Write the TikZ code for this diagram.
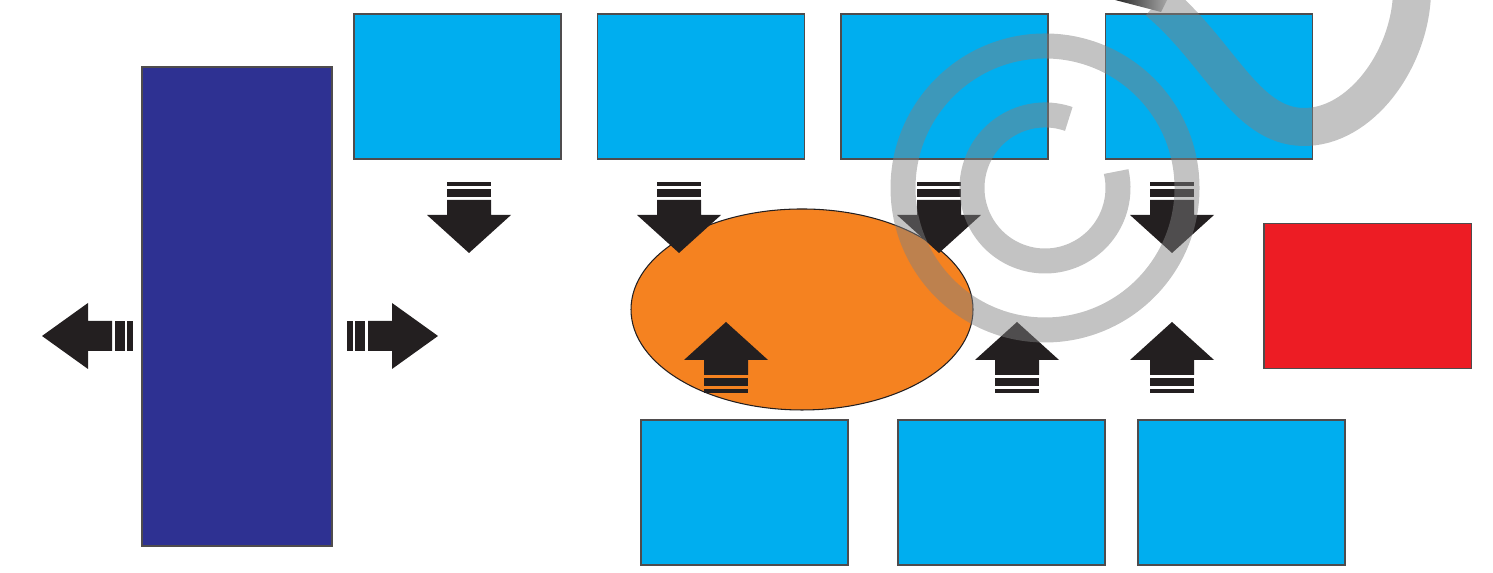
\documentclass[tikz,border=0pt]{standalone}
\usepackage{xcolor}
\usepackage{tikz}
\usetikzlibrary{shapes.geometric}

\definecolor{ciano}{HTML}{00AEEF}
\definecolor{anil}{HTML}{2E3192}
\definecolor{vermelho}{HTML}{ED1C24}
\definecolor{laranja}{HTML}{F58220}
\definecolor{quasepreto}{HTML}{231F20}
\definecolor{marcadagua}{RGB}{129,129,129}

\tikzset{
  pics/setabaixo/.style={code={
    \fill[quasepreto] (-0.22,0.53) -- (0.22,0.53) -- (0.22,0.38) -- (0.42,0.38)
      -- (0,0) -- (-0.42,0.38) -- (-0.22,0.38) -- cycle;
    \fill[quasepreto] (-0.22,0.56) rectangle (0.22,0.64);
    \fill[quasepreto] (-0.22,0.67) rectangle (0.22,0.71);
  }},
  pics/setadireita/.style={code={
    \fill[quasepreto] (-0.70,-0.15) -- (-0.46,-0.15) -- (-0.46,-0.33) -- (0,0)
      -- (-0.46,0.33) -- (-0.46,0.15) -- (-0.70,0.15) -- cycle;
    \fill[quasepreto] (-0.83,-0.15) rectangle (-0.73,0.15);
    \fill[quasepreto] (-0.91,-0.15) rectangle (-0.85,0.15);
  }},
}

\begin{document}
\begin{tikzpicture}[
    bloco/.style={draw=quasepreto!80, line width=0.3pt, inner sep=0pt,
                  minimum width=2.07cm, minimum height=1.45cm, fill=ciano},
    marca/.style={draw=marcadagua, draw opacity=0.48, line width=0.25cm}]
  \useasboundingbox (0,0) rectangle (14.93,5.73);
  % coluna da esquerda e blocos
  \node[draw=quasepreto!80, line width=0.3pt, fill=anil, inner sep=0pt,
        minimum width=1.90cm, minimum height=4.79cm] (coluna) at (2.37,2.665) {};
  \node[bloco] (cima1) at (4.575,4.865) {};
  \node[bloco] (cima2) at (7.01,4.865) {};
  \node[bloco] (cima3) at (9.445,4.865) {};
  \node[bloco] (cima4) at (12.09,4.865) {};
  \node[bloco] (baixo1) at (7.445,0.805) {};
  \node[bloco] (baixo2) at (10.015,0.805) {};
  \node[bloco] (baixo3) at (12.415,0.805) {};
  \node[bloco, fill=vermelho] (lateral) at (13.675,2.77) {};
  % elipse central
  \node[ellipse, draw=quasepreto, line width=0.3pt, fill=laranja, inner sep=0pt,
        minimum width=3.42cm, minimum height=2.01cm] (centro) at (8.02,2.635) {};
  % setas listradas
  \pic at (4.69,3.20) {setabaixo};
  \pic at (6.79,3.20) {setabaixo};
  \pic at (9.39,3.20) {setabaixo};
  \pic at (11.72,3.20) {setabaixo};
  \pic[rotate=180] at (7.26,2.51) {setabaixo};
  \pic[rotate=180] at (10.17,2.51) {setabaixo};
  \pic[rotate=180] at (11.72,2.51) {setabaixo};
  \pic at (4.38,2.37) {setadireita};
  \pic[rotate=180] at (0.42,2.37) {setadireita};
  % marca d'agua
  \draw[marca] (10.45,3.85) circle[radius=1.42];
  \draw[marca] (10.45,3.85) ++(71:0.73) arc[start angle=71, end angle=373, radius=0.73];
  \draw[marca, line width=0.38cm] (11.58,5.72) .. controls (12.2,5.2) and (12.45,4.47) .. (13.03,4.46)
    .. controls (13.6,4.45) and (14.1,5.13) .. (14.12,5.80);
  \shade[left color=black!85, right color=black!35]
    (11.15,5.73) -- (11.67,5.73) -- (11.61,5.61) -- cycle;
\end{tikzpicture}
\end{document}
